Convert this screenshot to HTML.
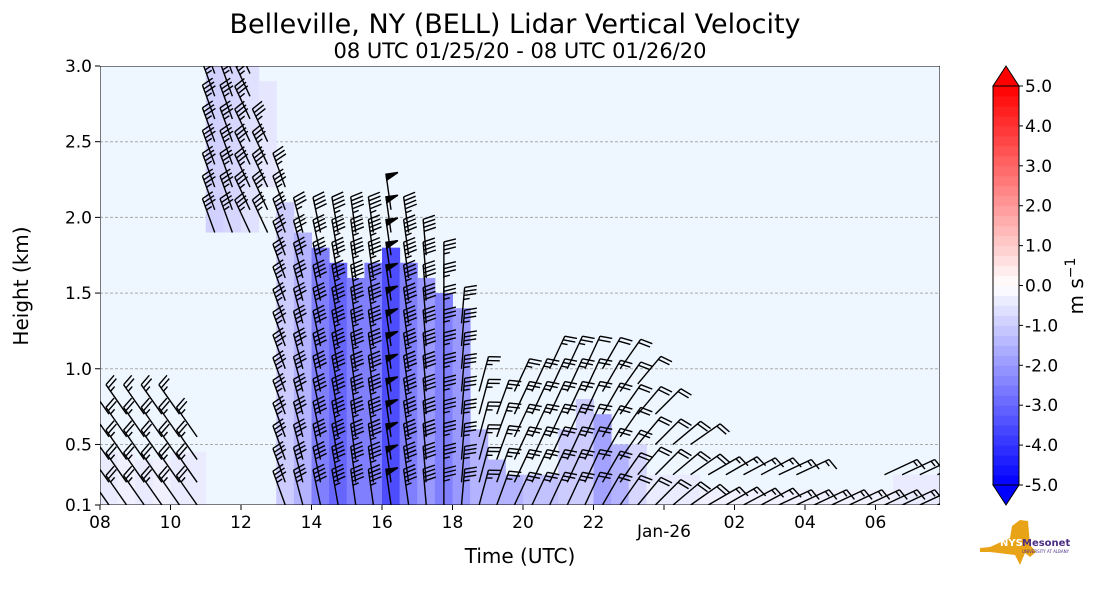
<!DOCTYPE html>
<html><head><meta charset="utf-8"><style>
body{margin:0;background:#fff;font-family:"Liberation Sans","DejaVu Sans",sans-serif}
svg text{font-family:"DejaVu Sans","Liberation Sans",sans-serif}
</style></head><body>
<svg id="c" width="1101" height="600" xmlns="http://www.w3.org/2000/svg">
<defs><clipPath id="pc"><rect x="100" y="66" width="840" height="439"/></clipPath></defs>
<text x="515" y="33" font-size="27" text-anchor="middle">Belleville, NY (BELL) Lidar Vertical Velocity</text>
<text x="520" y="58" font-size="21" text-anchor="middle">08 UTC 01/25/20 - 08 UTC 01/26/20</text>
<g id="plot" clip-path="url(#pc)"></g>
<g id="cbar"></g>
<text x="520" y="563" font-size="20" text-anchor="middle">Time (UTC)</text>
<text transform="translate(28,286) rotate(-90)" font-size="20" text-anchor="middle">Height (km)</text>
<text transform="translate(1083,286) rotate(-90)" font-size="20" text-anchor="middle">m s<tspan dy="-8" font-size="14">−1</tspan></text>
<g>
<polygon points="980,548 990,547 1010,538 1012,526 1020,520 1028,521 1030,545 1036,552 1030,557 1025,553 1020,565 1015,555 990,552 980,552" fill="#e8a317"/>
<text x="1000" y="546" font-size="10" font-weight="bold" fill="#fff">NYS</text>
<text x="1022" y="546" font-size="10" font-weight="bold" fill="#4b2e83">Mesonet</text>
<text x="1022" y="553" font-size="4" fill="#4b2e83">UNIVERSITY AT ALBANY</text>
</g>
</svg>
<script>
// data
const times=[0,0.5,1,1.5,2,2.5,3,3.5,4,4.5,5,5.5,6,6.5,7,7.5,8,8.5,9,9.5,10,10.5,11,11.5,12,12.5,13,13.5,14,14.5,15,15.5,16,16.5,17,17.5,18,18.5,19,19.5,20,20.5,21,21.5,22,22.5,23,23.5];
const echoBase=[0.1,0.1,0.1,0.1,0.1,0.1,1.9,1.9,1.9,2.2,0.1,0.1,0.1,0.1,0.1,0.1,0.1,0.1,0.1,0.1,0.1,0.1,0.1,0.1,0.1,0.1,0.1,0.1,0.1,0.1,0.1,0.1,0.1,0.1,0.1,0.1,0.1,0.1,0.1,0.1,0.1,0.1,0.1,0.1,0.1,0.1,0.1,0.1];
const echoTop=[0.45,0.45,0.4,0.4,0.45,0.45,3.0,3.0,3.0,2.9,2.1,1.9,1.8,1.7,1.6,1.7,1.8,1.7,1.6,1.5,1.4,0.6,0.4,0.3,0.3,0.3,0.6,0.8,0.7,0.5,0.5,0.3,0.3,0.3,0.2,0.2,0.2,0.2,0.2,0.2,0.2,0.2,0.2,0.2,0.2,0.3,0.3,0.3];
const wValue=[-0.4,-0.3,-0.4,-0.3,-0.4,-0.4,-0.9,-0.8,-0.6,-0.5,-1.0,-1.5,-2.5,-3.0,-2.5,-2.5,-3.5,-2.5,-2.0,-2.5,-2.0,-1.5,-1.5,-1.5,-1.2,-1.2,-1.0,-1.0,-1.8,-1.5,-0.8,-0.4,-0.4,-0.4,-0.3,-0.3,-0.3,-0.3,-0.3,-0.3,-0.3,-0.3,-0.3,-0.3,-0.3,-0.4,-0.4,-0.4];
const barbTop=[0.7,0.7,0.7,0.7,0.7,0.6,3.0,3.0,3.0,2.6,2.3,2.0,1.9,1.9,1.9,1.9,2.1,2.0,1.8,1.6,1.4,0.9,0.8,0.9,0.9,1.0,1.1,1.1,1.1,1.0,0.9,0.8,0.6,0.5,0.4,0.35,0.3,0.3,0.3,0.3,0.25,0.25,0.25,0.25,0.3,0.3,0.35,0.4];
const barbDir=[-35,-35,-35,-35,-35,-35,-20,-20,-25,-25,-20,-15,-12,-10,-8,-8,-8,-8,-5,0,5,15,20,25,25,25,25,25,30,35,40,45,50,55,60,60,62,62,65,65,65,65,65,65,65,65,65,65];
const barbSpd=[25,25,25,25,25,25,35,35,35,35,35,35,40,45,45,45,50,45,40,35,35,25,25,25,25,25,25,20,20,20,20,20,20,20,15,15,15,15,15,15,15,15,15,15,15,15,15,15];
const xTicks=["08","10","12","14","16","18","20","22","Jan-26","02","04","06"];
const yTicks=[0.1,0.5,1.0,1.5,2.0,2.5,3.0];
const cbTicks=[-5,-4,-3,-2,-1,0,1,2,3,4,5];

const NS="http://www.w3.org/2000/svg";
const X0=100,X1=940,Y0=505,Y1=66;
const xs=h=>X0+h*35.25;
const ys=k=>Y0-(k-0.1)*(Y0-Y1)/2.9;
function col(w){const t=Math.max(-1,Math.min(1,w/5));
 if(t<0){const v=Math.round(255*(1+t));return `rgb(${v},${v},255)`}
 const v=Math.round(255*(1-t));return `rgb(255,${v},${v})`}
function mk(tag,at,p){const e=document.createElementNS(NS,tag);for(const k in at)e.setAttribute(k,at[k]);p.appendChild(e);return e}
const P=document.getElementById('plot');
const bg=mk('rect',{x:X0,y:Y1,width:X1-X0,height:Y0-Y1,fill:'#eef6ff'},P);


yTicks.slice(1,6).forEach(v=>{const l=mk('line',{x1:X0,x2:X1,y1:ys(v),y2:ys(v),stroke:'#aaa','stroke-dasharray':'3,2'},P);

});
times.forEach((t,i)=>{const x=xs(t),w=35.25*0.5+0.5;
 const r=mk('rect',{x:x,y:ys(echoTop[i]),width:w,height:ys(echoBase[i])-ys(echoTop[i]),fill:col(wValue[i])},P);
 
 });
const BG=mk('g',{stroke:'#000','stroke-width':1.4,fill:'#000'},P);
times.forEach((t,i)=>{
 const start=(i>=6&&i<=9)?1.9:0.1;
 const step=i>=30?0.2:0.15;
 for(let h=start;h<=barbTop[i]+0.001;h+=step){
  const bx=xs(t)+9,by=ys(h),a=barbDir[i]*Math.PI/180,L=36;
  const dx=Math.sin(a),dy=-Math.cos(a);
  const ex=bx+dx*L,ey=by+dy*L;
  const g=mk('g',{},BG);
  
  
  mk('line',{x1:bx,y1:by,x2:ex,y2:ey},g);
  let s=barbSpd[i],pos=0;const px=-dy,py=dx;
  while(s>=50){const ax=ex-dx*pos,ay=ey-dy*pos;mk('polygon',{points:`${ax},${ay} ${ax+px*12},${ay+py*12} ${ax-dx*6},${ay-dy*6}`},g);pos+=8;s-=50}
  while(s>=10){const ax=ex-dx*pos,ay=ey-dy*pos;mk('line',{x1:ax,y1:ay,x2:ax+px*12+dx*3,y2:ay+py*12+dy*3},g);pos+=4;s-=10}
  if(s>=5){const ax=ex-dx*pos,ay=ey-dy*pos;mk('line',{x1:ax,y1:ay,x2:ax+px*6+dx*1.5,y2:ay+py*6+dy*1.5},g)}
 }});
mk('rect',{x:X0,y:Y1,width:X1-X0,height:Y0-Y1,fill:'none',stroke:'#000','stroke-width':1},P);
const C=document.getElementById('c');
xTicks.forEach((lab,i)=>{const x=xs(i*2);mk('line',{x1:x,x2:x,y1:Y0,y2:Y0+5,stroke:'#000'},C);
 const tx=mk('text',{x:x,y:lab.length>3?537:528,'font-size':17,'text-anchor':'middle'},C);tx.textContent=lab;
 
 });
yTicks.forEach(v=>{const y=ys(v);mk('line',{x1:X0-5,x2:X0,y1:y,y2:y,stroke:'#000'},C);
 const tx=mk('text',{x:X0-8,y:y+6,'font-size':17,'text-anchor':'end'},C);tx.textContent=v.toFixed(1);
 
 });
const CB=document.getElementById('cbar');


const cx=993,cw=26,cT=86,cB=485,cy=v=>cB-(v+5)*(cB-cT)/10;
for(let v=-5;v<5;v+=0.25){mk('rect',{x:cx,y:cy(v+0.25),width:cw,height:(cB-cT)/40+0.5,fill:col(v+0.125)},CB)}
mk('polygon',{points:`${cx},${cT} ${cx+cw/2},66 ${cx+cw},${cT}`,fill:'#ff0000',stroke:'#000'},CB);
mk('polygon',{points:`${cx},${cB} ${cx+cw/2},505 ${cx+cw},${cB}`,fill:'#0000ff',stroke:'#000'},CB);
mk('rect',{x:cx,y:cT,width:cw,height:cB-cT,fill:'none',stroke:'#000'},CB);
cbTicks.forEach(v=>{const y=cy(v);mk('line',{x1:cx+cw,x2:cx+cw+4,y1:y,y2:y,stroke:'#000'},CB);
 const tx=mk('text',{x:cx+cw+6,y:y+6,'font-size':17},CB);tx.textContent=(v<0?'-':'')+Math.abs(v).toFixed(1);
 
 });
</script>
</body></html>
